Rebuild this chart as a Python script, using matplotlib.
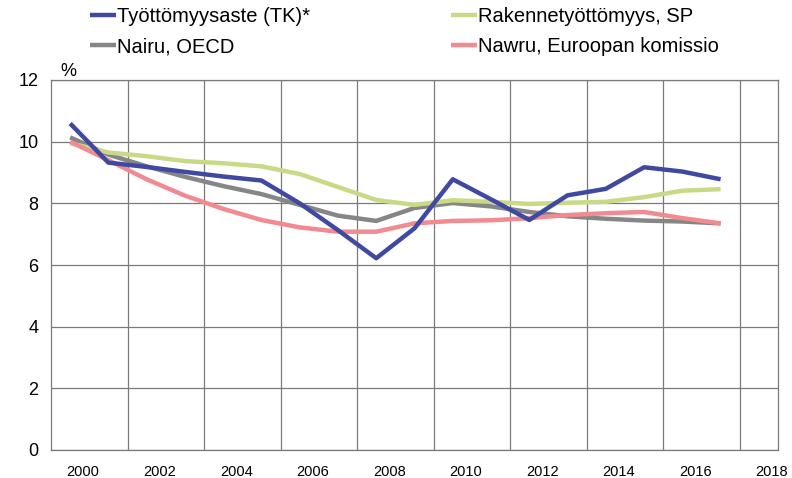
import matplotlib
matplotlib.use('Agg')
import matplotlib.pyplot as plt
import matplotlib.transforms as mtransforms

plt.rcParams['font.family'] = ['Liberation Sans', 'DejaVu Sans']

# vuodet ja sarjat (luettu kuvasta)
years = list(range(2000, 2018))
tyottomyysaste = [10.59, 9.32, 9.18, 9.02, 8.87, 8.74, 8.00, 7.13, 6.22, 7.19,
                  8.78, 8.13, 7.46, 8.26, 8.47, 9.17, 9.03, 8.78]
rakenne_sp = [9.95, 9.65, 9.53, 9.37, 9.30, 9.20, 8.95, 8.53, 8.11, 7.95,
              8.10, 8.05, 7.98, 8.02, 8.05, 8.20, 8.41, 8.46]
nairu_oecd = [10.14, 9.58, 9.20, 8.86, 8.56, 8.30, 7.95, 7.60, 7.43, 7.85,
              8.01, 7.90, 7.72, 7.58, 7.50, 7.44, 7.41, 7.35]
nawru_ek = [10.00, 9.40, 8.78, 8.25, 7.82, 7.46, 7.22, 7.08, 7.08, 7.35,
            7.43, 7.45, 7.52, 7.62, 7.68, 7.72, 7.52, 7.35]

labels = ['Työttömyysaste (TK)*', 'Nairu, OECD',
          'Rakennetyöttömyys, SP', 'Nawru, Euroopan komissio']
tick_years = list(range(2000, 2019, 2))
y_ticks = [0, 2, 4, 6, 8, 10, 12]

c_blue = '#3F49A2'
c_grey = '#868686'
c_green = '#C9DA86'
c_pink = '#F28A91'
c_grid = '#7a7a7a'

fig = plt.figure(figsize=(7.92, 4.78), dpi=100)
ax = fig.add_axes([51/792, 1 - 450/478, 727/792, 370/478])

l_grey, = ax.plot(years, nairu_oecd, color=c_grey, lw=3.2, solid_capstyle='butt')
l_green, = ax.plot(years, rakenne_sp, color=c_green, lw=3.2, solid_capstyle='butt')
l_pink, = ax.plot(years, nawru_ek, color=c_pink, lw=3.2, solid_capstyle='butt')
l_blue, = ax.plot(years, tyottomyysaste, color=c_blue, lw=3.2, solid_capstyle='butt')

ax.set_xlim(1999.5, 2018.5)
ax.set_ylim(0, 12)
ax.set_yticks(y_ticks)
ax.set_xticks(tick_years)
ax.set_xticklabels([str(y) for y in tick_years])
ax.set_xticks([y + 1.5 for y in tick_years[:-1]], minor=True)
ax.tick_params(axis='both', which='both', length=0)
ax.tick_params(axis='y', labelsize=13, pad=9)
ax.tick_params(axis='x', labelsize=10.5, pad=11)

offset = mtransforms.ScaledTranslation(13/100, 0, fig.dpi_scale_trans)
for lab in ax.get_xticklabels():
    lab.set_transform(lab.get_transform() + offset)

ax.grid(False, which='major', axis='x')
ax.grid(True, which='minor', axis='x', color=c_grid, lw=0.9)
ax.grid(True, which='major', axis='y', color=c_grid, lw=0.9)
ax.set_axisbelow(True)
for s in ax.spines.values():
    s.set_color(c_grid)
    s.set_linewidth(0.9)

fig.text(60/792, 1 - 71/478, '%', fontsize=13, va='center', ha='left')

fig.legend([l_blue, l_grey, l_green, l_pink], labels, ncol=2,
           loc='upper left', bbox_to_anchor=(90/792, 1 - 7/478),
           frameon=False, fontsize=14.5, handlelength=1.3, handletextpad=0.05,
           columnspacing=7.0, labelspacing=0.55, borderpad=0, borderaxespad=0)

fig.savefig('out.png', dpi=100)
